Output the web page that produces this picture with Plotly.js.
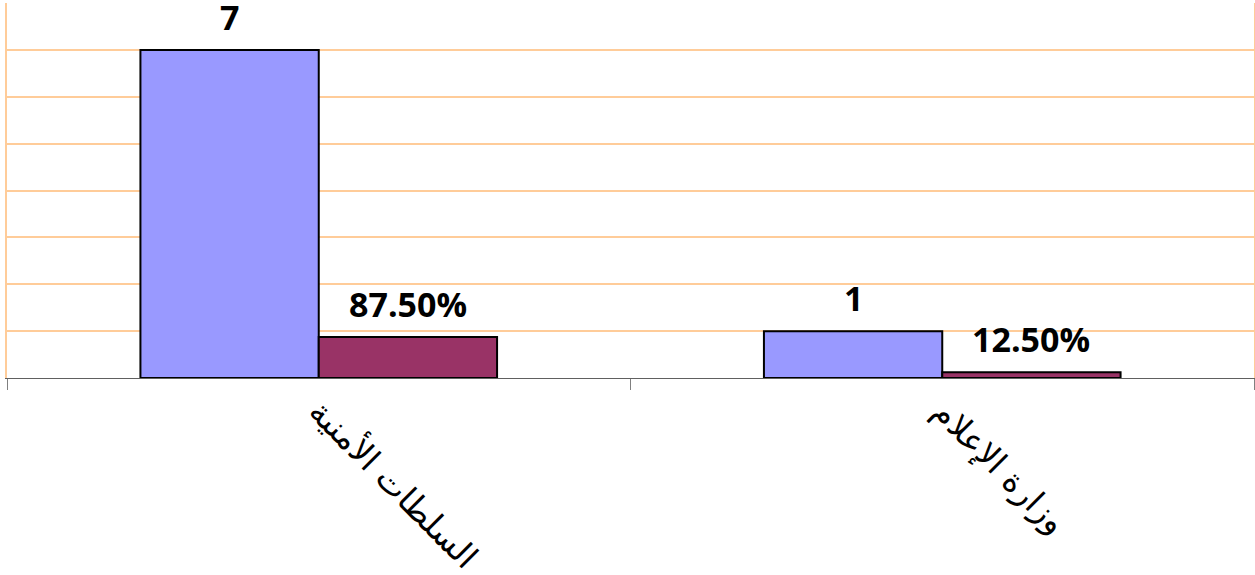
<!DOCTYPE html>
<html>
<head>
<meta charset="utf-8">
<script src="https://cdn.plot.ly/plotly-3.0.1.min.js"></script>
<style>
  html, body { margin: 0; padding: 0; background: #fff; }
  #chart { width: 1255px; height: 575px; }
</style>
</head>
<body>
<div id="chart"></div>
<script>
// data
const categories = ["السلطات الأمنية", "وزارة الإعلام"];
const counts = [7, 1];
const percents = [87.5, 12.5];

const barLine = { color: "#000000", width: 2 };

const traceCount = {
  type: "bar",
  x: categories,
  y: counts,
  marker: { color: "#9999FF", line: barLine },
  hoverinfo: "none"
};

const tracePct = {
  type: "bar",
  x: categories,
  y: percents.map(p => p / 100),
  marker: { color: "#993366", line: barLine },
  hoverinfo: "none"
};

// value labels above the bars
const labelFont = { family: "Open Sans", size: 34, color: "#000000", weight: "bold" };
const annotations = [];
categories.forEach(function (c, i) {
  annotations.push({
    x: c, y: counts[i], xref: "x", yref: "y",
    text: "<b>" + counts[i] + "</b>", showarrow: false,
    xshift: -89, yshift: 8, yanchor: "bottom", font: labelFont
  });
  annotations.push({
    x: c, y: percents[i] / 100, xref: "x", yref: "y",
    text: "<b>" + percents[i].toFixed(2) + "%</b>", showarrow: false,
    xshift: 89, yshift: 8, yanchor: "bottom", font: labelFont
  });
});

const layout = {
  width: 1255,
  height: 575,
  margin: { l: 7, r: 1, t: 3, b: 197 },
  paper_bgcolor: "#ffffff",
  plot_bgcolor: "#ffffff",
  showlegend: false,
  barmode: "group",
  bargap: 0.428,
  bargroupgap: 0,
  xaxis: {
    type: "category",
    tickson: "boundaries",
    ticks: "outside",
    ticklen: 11,
    tickcolor: "#808080",
    tickwidth: 1,
    showline: true,
    linecolor: "#606060",
    linewidth: 1,
    tickangle: 45,
    tickfont: { family: "DejaVu Sans", size: 33, color: "#000000" },
    showgrid: false,
    zeroline: false
  },
  yaxis: {
    range: [0, 8],
    dtick: 1,
    showticklabels: false,
    ticks: "",
    showgrid: true,
    gridcolor: "#FFCC99",
    gridwidth: 2,
    showline: true,
    linecolor: "#FFCC99",
    linewidth: 2,
    mirror: true,
    zeroline: false
  },
  annotations: annotations
};

Plotly.newPlot("chart", [traceCount, tracePct], layout, { displayModeBar: false, staticPlot: true });
</script>
</body>
</html>
